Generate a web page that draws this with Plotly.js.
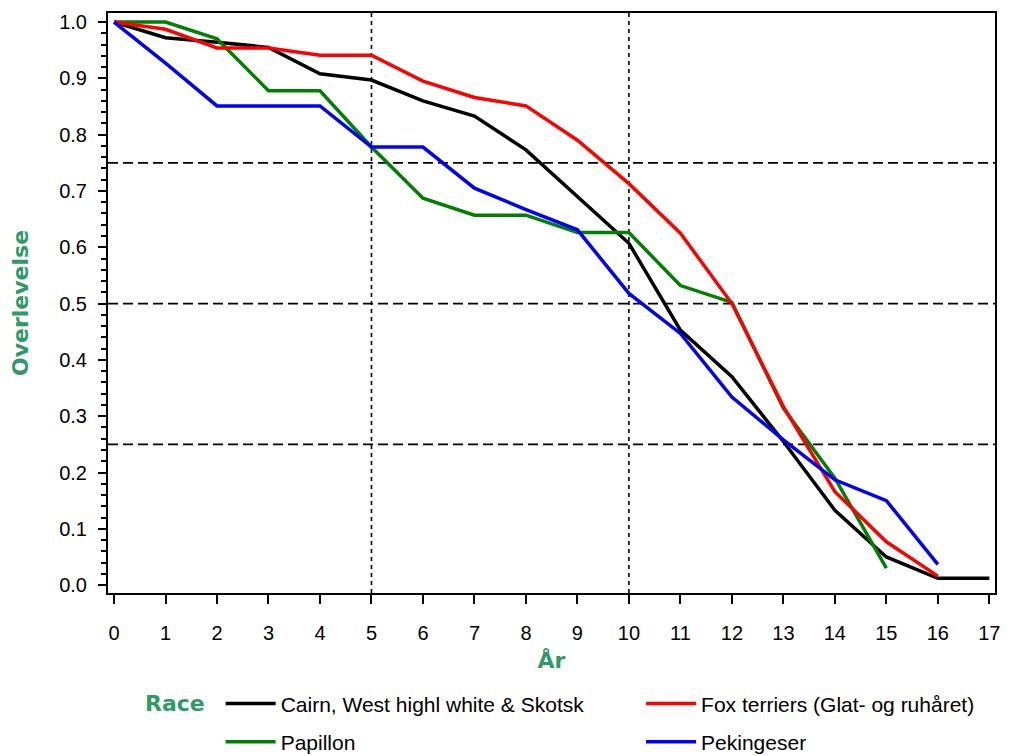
<!DOCTYPE html>
<html>
<head>
<meta charset="utf-8">
<script src="https://cdn.plot.ly/plotly-3.0.1.min.js"></script>
<style>html,body{margin:0;padding:0;background:#fff;}#chart{width:1012px;height:756px;}</style>
</head>
<body>
<div id="chart"></div>
<script>
// Data
const years = [0,1,2,3,4,5,6,7,8,9,10,11,12,13,14,15,16,17];
const cairn = [1.0,0.972,0.964,0.955,0.908,0.897,0.860,0.833,0.773,0.689,0.607,0.453,0.370,0.255,0.133,0.050,0.012,0.012];
const fox = [1.0,0.987,0.954,0.954,0.941,0.941,0.895,0.866,0.851,0.790,0.713,0.625,0.500,0.317,0.166,0.077,0.016];
const papillon = [1.0,1.0,0.970,0.878,0.878,0.778,0.687,0.657,0.657,0.626,0.626,0.532,0.502,0.314,0.190,0.030];
const peking = [1.0,0.927,0.851,0.851,0.851,0.778,0.778,0.705,0.667,0.631,0.518,0.447,0.334,0.258,0.187,0.150,0.037];
const names = ["Cairn, West highl white & Skotsk","Fox terriers (Glat- og ruhåret)","Papillon","Pekingeser"];
const hRefs = [0.25,0.5,0.75];
const vRefs = [5,10];

const green = '#2f9a66';
const titleFont = {family:'DejaVu Sans, Verdana, sans-serif', size:22, color:green, weight:'bold'};
function tr(y, name, color, leg){
  return {x: years.slice(0, y.length), y: y, name: name, type:'scatter', mode:'lines',
          legend: leg, legendgroup: name, line:{color: color, width:3.5}};
}
const data = [
  tr(cairn, names[0], '#000000', 'legend'),
  tr(papillon, names[2], '#008000', 'legend'),
  tr(fox, names[1], '#ff0000', 'legend2'),
  tr(peking, names[3], '#0000ff', 'legend2')
];
const shapes = [];
hRefs.forEach(v => shapes.push({type:'line', xref:'paper', x0:0, x1:1, yref:'y', y0:v, y1:v,
  line:{color:'#000', width:1.8, dash:'10px,5px'}, layer:'below'}));
vRefs.forEach(v => shapes.push({type:'line', yref:'paper', y0:0, y1:1, xref:'x', x0:v, x1:v,
  line:{color:'#000', width:1.6, dash:'4px,4px'}, layer:'below'}));

const legBase = {orientation:'v', yref:'container', yanchor:'top', xanchor:'left', y:0.096,
  font:{size:21, color:'#000'}, itemwidth:50, tracegroupgap:8, bgcolor:'rgba(0,0,0,0)'};

const layout = {
  width:1012, height:756,
  margin:{l:108, r:17, t:13, b:163},
  paper_bgcolor:'#fff', plot_bgcolor:'#fff',
  font:{family:'Liberation Sans, Arial, sans-serif', size:20, color:'#000'},
  showlegend:true,
  xaxis:{range:[-0.117,17.11], tickmode:'array', tickvals:years, ticktext:years.map(String),
    showgrid:false, zeroline:false, showline:true, mirror:true, linecolor:'#000', linewidth:2,
    ticks:'outside', ticklen:9, tickwidth:2, tickcolor:'#000', ticklabelstandoff:12,
    tickfont:{size:20},
    title:{text:'År', font:titleFont, standoff:10}},
  yaxis:{range:[-0.014,1.016], tickmode:'linear', tick0:0, dtick:0.1, tickformat:'.1f',
    showgrid:false, zeroline:false, showline:true, mirror:true, linecolor:'#000', linewidth:2,
    ticks:'outside', ticklen:8, tickwidth:2, tickcolor:'#000', ticklabelstandoff:7,
    minor:{dtick:0.02, ticks:'outside', ticklen:5, tickwidth:2, tickcolor:'#000', showgrid:false},
    tickfont:{size:20},
    title:{text:'Overlevelse', font:titleFont, standoff:24}},
  legend: Object.assign({}, legBase, {x:0.127}),
  legend2: Object.assign({}, legBase, {x:0.601}),
  annotations:[{text:'Race', xref:'paper', yref:'paper', x:0.0755, y:-0.19, xanchor:'center', yanchor:'middle',
    showarrow:false, font:titleFont}],
  shapes: shapes
};
Plotly.newPlot('chart', data, layout, {displayModeBar:false, staticPlot:true});
</script>
</body>
</html>
